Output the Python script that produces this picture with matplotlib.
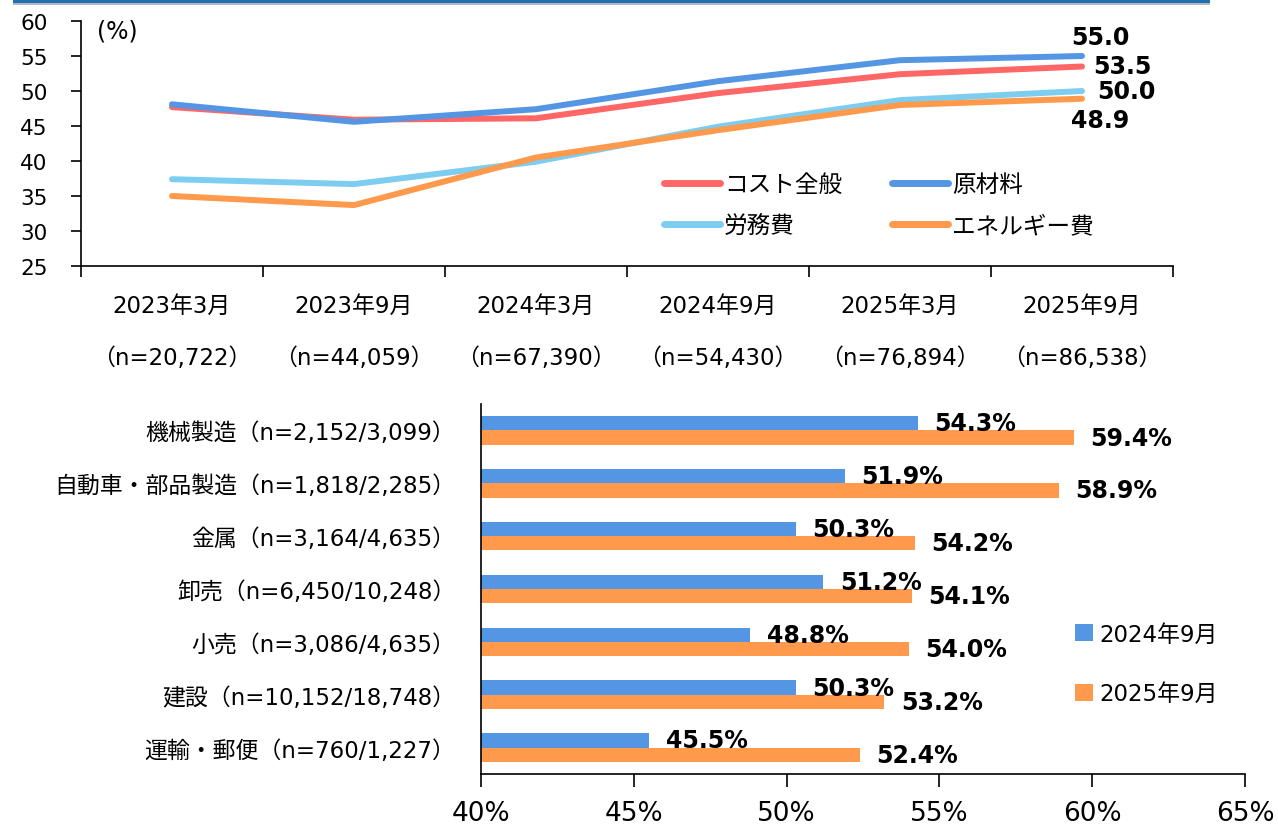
import numpy as np
import matplotlib
matplotlib.use("Agg")
import matplotlib.pyplot as plt
from matplotlib.patches import Rectangle
from matplotlib.lines import Line2D
from matplotlib.ticker import FixedLocator, FuncFormatter

plt.rcParams['font.family'] = ['DejaVu Sans', 'Noto Sans CJK JP']

# survey rounds (top panel)
periods = ["2023年3月", "2023年9月", "2024年3月", "2024年9月", "2025年3月", "2025年9月"]
samples = ["（n=20,722）", "（n=44,059）", "（n=67,390）", "（n=54,430）", "（n=76,894）", "（n=86,538）"]

cost_all = [47.7, 45.9, 46.1, 49.7, 52.4, 53.5]
materials = [48.1, 45.6, 47.4, 51.4, 54.4, 55.0]
labour = [37.4, 36.7, 39.9, 44.9, 48.7, 50.0]
energy = [35.0, 33.7, 40.5, 44.4, 48.0, 48.9]

series_names = ["コスト全般", "原材料", "労務費", "エネルギー費"]
series_colors = ["#FF6666", "#5496E3", "#7DCDF0", "#FF994C"]

# industries (bottom panel)
industries = ["機械製造（n=2,152/3,099）", "自動車・部品製造（n=1,818/2,285）",
              "金属（n=3,164/4,635）", "卸売（n=6,450/10,248）",
              "小売（n=3,086/4,635）", "建設（n=10,152/18,748）",
              "運輸・郵便（n=760/1,227）"]
sep_2024 = [54.3, 51.9, 50.3, 51.2, 48.8, 50.3, 45.5]
sep_2025 = [59.4, 58.9, 54.2, 54.1, 54.0, 53.2, 52.4]
bar_names = ["2024年9月", "2025年9月"]
bar_colors = ["#5496E3", "#FF994C"]

W, H = 1278, 828
fig = plt.figure(figsize=(W / 100, H / 100), dpi=100)

def box(x0, y0, x1, y1):
    return [x0 / W, 1 - y1 / H, (x1 - x0) / W, (y1 - y0) / H]

# frame edge at the very top
fig.patches.append(Rectangle((13 / W, 1 - 4 / H), (1210 - 13) / W, 4 / H,
                             transform=fig.transFigure, facecolor="#1F6FB5",
                             edgecolor="none"))
fig.patches.append(Rectangle((13 / W, 1 - 6 / H), (1210 - 13) / W, 2 / H,
                             transform=fig.transFigure, facecolor="#B8B8B8",
                             edgecolor="none"))

# ---- top: line chart ----
ax1 = fig.add_axes(box(81, 22, 1173, 267))
x = np.arange(len(periods))
data = [cost_all, materials, labour, energy]
for i in [2, 3, 0, 1]:
    ax1.plot(x, data[i], color=series_colors[i], lw=4.3, solid_capstyle="round",
             solid_joinstyle="round", zorder=3 + i)

ax1.set_xlim(-0.5, 5.5)
ax1.set_ylim(25, 60)
ax1.set_yticks(np.arange(25, 61, 5))
ax1.tick_params(axis="y", labelsize=15.5, length=7, width=1.2, pad=17)
ax1.xaxis.set_major_locator(FixedLocator(np.arange(-0.5, 6, 1)))
ax1.xaxis.set_major_formatter(FuncFormatter(lambda v, p: ""))
ax1.xaxis.set_minor_locator(FixedLocator(x))
ax1.set_xticklabels([f"{p}\n\n{s}" for p, s in zip(periods, samples)], minor=True)
ax1.tick_params(axis="x", which="major", length=8, width=1.2)
ax1.tick_params(axis="x", which="minor", length=0, labelsize=16.5, pad=20)
for t in ax1.get_xticklabels(minor=True):
    t.set_linespacing(1.18)
for s in ["top", "right"]:
    ax1.spines[s].set_visible(False)
for s in ["left", "bottom"]:
    ax1.spines[s].set_linewidth(1.2)

fig.text(97 / W, 1 - 32 / H, "(%)", fontsize=17, va="center", ha="left")

# end-point values
end_offsets = [(8, 0, "left", "center"), (13, 14, "center", "center"),
               (11, 0, "left", "center"), (13, -15, "center", "center")]
for i in range(4):
    dx, dy, ha, va = end_offsets[i]
    ax1.annotate(f"{data[i][-1]:.1f}", (x[-1], data[i][-1]), xytext=(dx, dy),
                 textcoords="offset points", ha=ha, va=va, fontsize=17,
                 fontweight="bold")

handles = [Line2D([], [], color=c, lw=5, solid_capstyle="round") for c in series_colors]
leg_order = [0, 2, 1, 3]
ax1.legend([handles[i] for i in leg_order], [series_names[i] for i in leg_order],
           loc="upper left", ncol=2,
           bbox_to_anchor=(652 / W, 1 - 161 / H), bbox_transform=fig.transFigure,
           frameon=False, fontsize=17, handlelength=2.4, handletextpad=0.15,
           columnspacing=2.1, labelspacing=0.72, borderpad=0)

# ---- bottom: horizontal bar chart ----
ax2 = fig.add_axes(box(481, 405, 1245, 775))
y = np.arange(len(industries))[::-1]
h = 0.27
b1 = ax2.barh(y + h / 2, sep_2024, height=h, color=bar_colors[0], label=bar_names[0])
b2 = ax2.barh(y - h / 2, sep_2025, height=h, color=bar_colors[1], label=bar_names[1])
for bars, vals in [(b1, sep_2024), (b2, sep_2025)]:
    for rect, v in zip(bars, vals):
        ax2.annotate(f"{v:.1f}%", (v, rect.get_y() + rect.get_height() / 2),
                     xytext=(12, 0), textcoords="offset points", ha="left",
                     va="center", fontsize=17, fontweight="bold")

ax2.set_xlim(40, 65)
ax2.set_ylim(-0.5, 6.5)
ax2.set_xticks(np.arange(40, 66, 5))
ax2.xaxis.set_major_formatter(FuncFormatter(lambda v, p: f"{v:.0f}%"))
ax2.tick_params(axis="x", labelsize=19, length=9, width=1.2, pad=10)
ax2.set_yticks(y)
ax2.set_yticklabels(industries)
ax2.tick_params(axis="y", labelsize=16.5, length=0, pad=18.5)
for s in ["top", "right"]:
    ax2.spines[s].set_visible(False)
for s in ["left", "bottom"]:
    ax2.spines[s].set_linewidth(1.2)

ax2.legend(loc="upper left", bbox_to_anchor=(1064 / W, 1 - 612 / H),
           bbox_transform=fig.transFigure, frameon=False, fontsize=16.5,
           handlelength=0.75, handleheight=0.75, handletextpad=0.3,
           labelspacing=1.6, borderpad=0)

fig.savefig("out.png", dpi=100)
